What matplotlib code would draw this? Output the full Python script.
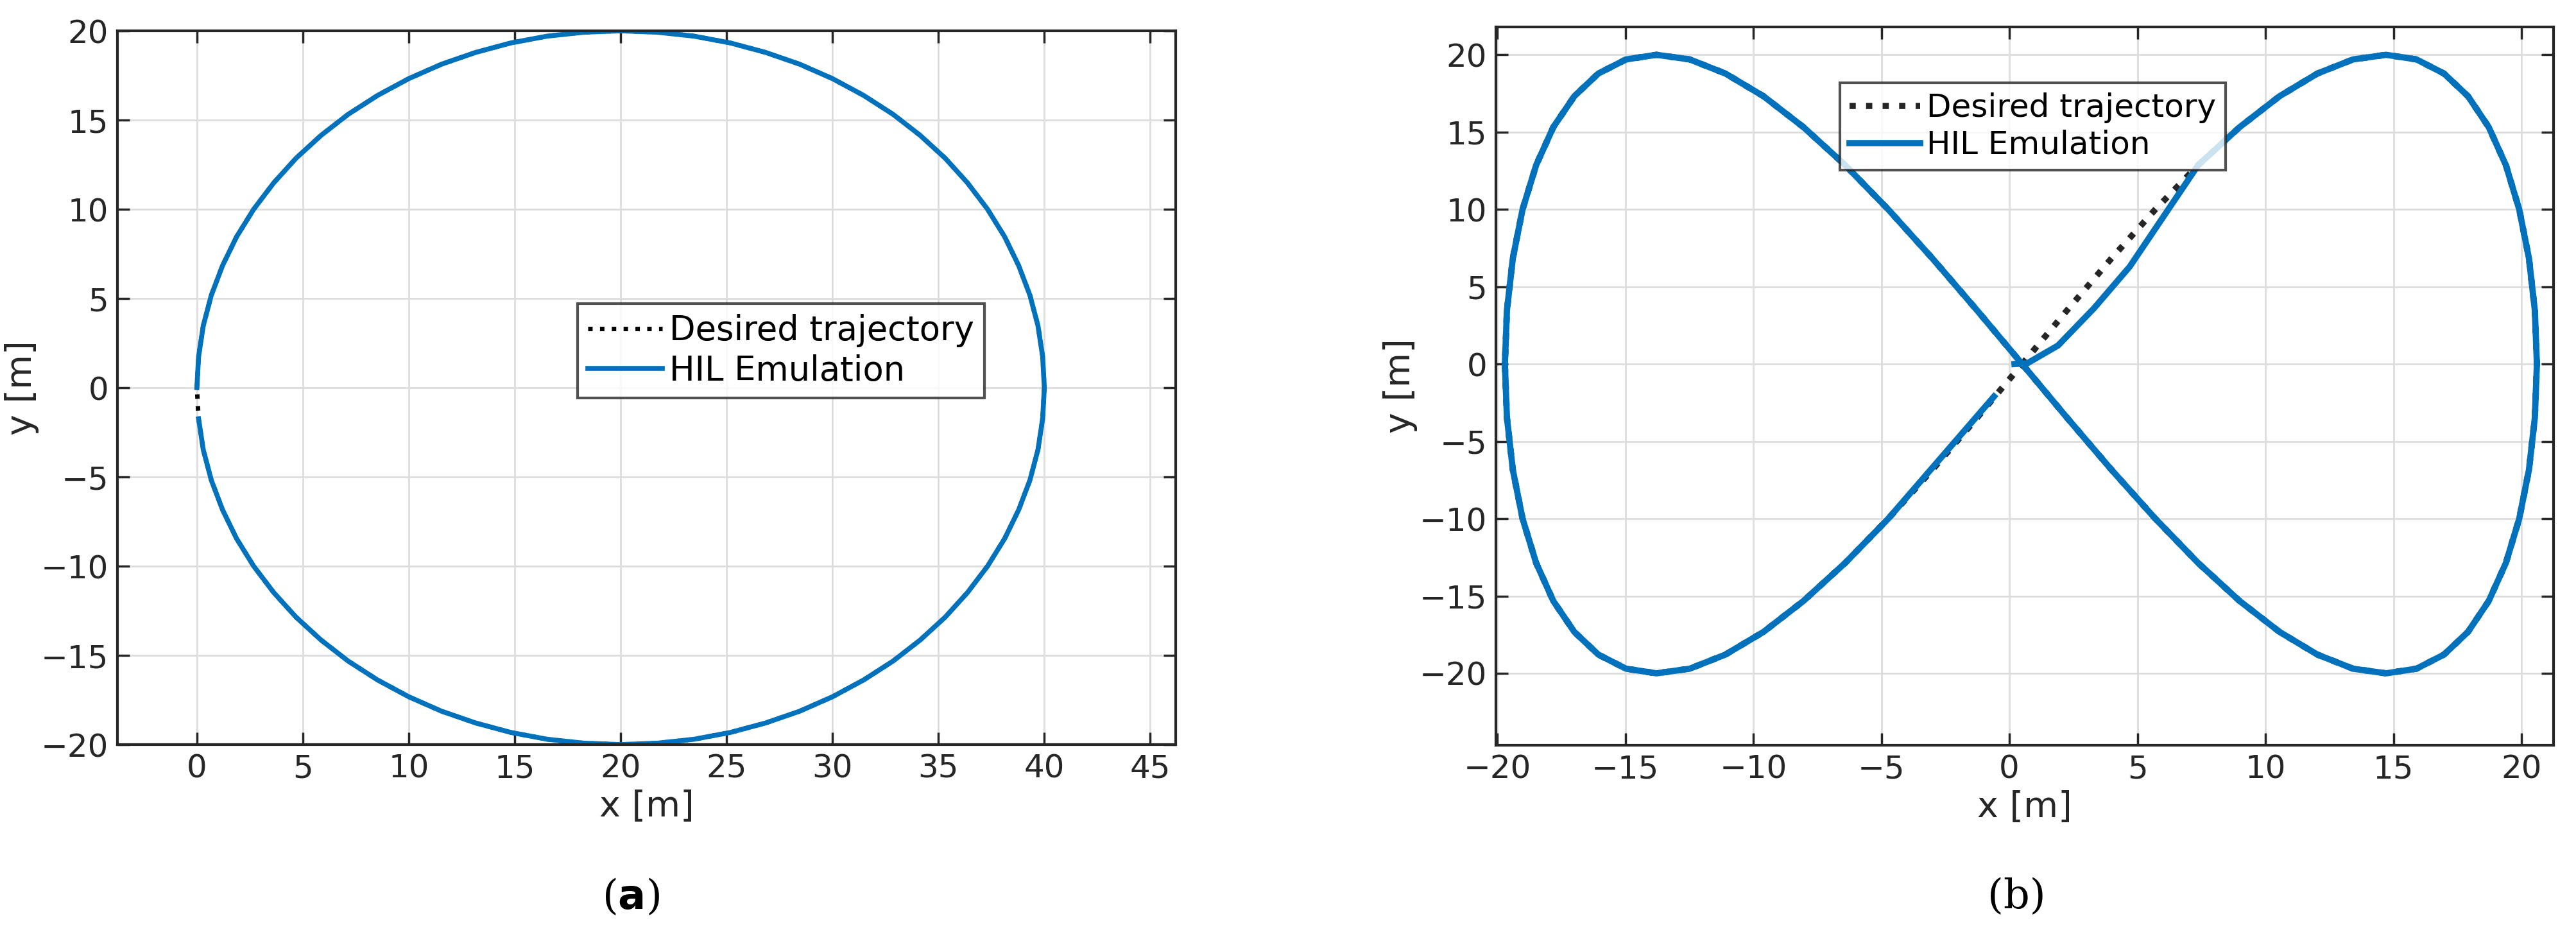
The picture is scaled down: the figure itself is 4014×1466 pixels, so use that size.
import matplotlib.pyplot as plt

# (a) circular path: upper-left quarter (x, y in m)
quarter_x = [0, 0.08, 0.30, 0.68, 1.21, 1.87, 2.68, 3.62, 4.68, 5.86, 7.14, 8.53, 10, 11.55, 13.16, 14.82, 16.53, 18.26, 20]
quarter_y = [0, 1.74, 3.47, 5.18, 6.84, 8.45, 10, 11.47, 12.86, 14.14, 15.32, 16.38, 17.32, 18.13, 18.79, 19.32, 19.70, 19.92, 20]

upper_x = quarter_x + [40 - v for v in quarter_x[-2::-1]]
upper_y = quarter_y + quarter_y[-2::-1]
circle_x = upper_x + upper_x[-2::-1]
circle_y = upper_y + [-v for v in upper_y[-2::-1]]
hil_circle_x = circle_x[:-1]
hil_circle_y = circle_y[:-1]

# (b) figure-eight path: half-lobe points
right_x = [0.5, 2.25, 3.99, 5.70, 7.37, 8.99, 10.55, 12.03, 13.42, 14.71, 15.90, 16.97, 17.91, 18.72, 19.39, 19.91, 20.29, 20.52, 20.6]
left_x = [0.5, -1.26, -3.01, -4.73, -6.41, -8.04, -9.6, -11.09, -12.48, -13.78, -14.97, -16.05, -16.99, -17.81, -18.48, -19.01, -19.39, -19.62, -19.7]
lobe_y = [0, 3.47, 6.84, 10, 12.86, 15.32, 17.32, 18.79, 19.70, 20, 19.70, 18.79, 17.32, 15.32, 12.86, 10, 6.84, 3.47, 0]

eight_x = right_x + right_x[-2::-1] + left_x[1:] + left_x[-2::-1]
eight_y = lobe_y + [-v for v in lobe_y[1:]] + lobe_y[1:] + [-v for v in lobe_y[1:]]
hil_eight_x = [0.2, 0.7, 1.9, 3.3, 4.7] + eight_x[4:-3] + [-0.6]
hil_eight_y = [0.0, 0.05, 1.2, 3.6, 6.3] + eight_y[4:-3] + [-2.1]

blue = '#0072BD'
dark = '#262626'
plt.rcParams['font.family'] = ['DejaVu Sans']

fig = plt.figure(figsize=(40.14, 14.66), dpi=100)
W, H = 4014, 1466
ax1 = fig.add_axes([183 / W, 1 - 1160 / H, (1832 - 183) / W, (1160 - 48) / H])
ax2 = fig.add_axes([2331 / W, 1 - 1161 / H, (3979 - 2331) / W, (1161 - 42) / H])

ax1.plot(circle_x, circle_y, ':', color='black', lw=5, label='Desired trajectory')
ax1.plot(hil_circle_x, hil_circle_y, '-', color=blue, lw=5.5, label='HIL Emulation')
ax1.set_xlim(-3.75, 46.2)
ax1.set_ylim(-20, 20)
ax1.set_xticks(range(0, 50, 5))
ax1.set_yticks(range(-20, 25, 5))

ax2.plot(eight_x, eight_y, ':', color=dark, lw=7, label='Desired trajectory')
ax2.plot(hil_eight_x, hil_eight_y, '-', color=blue, lw=7, label='HIL Emulation')
ax2.set_xlim(-20.05, 21.25)
ax2.set_ylim(-24.65, 21.8)
ax2.set_xticks(range(-20, 25, 5))
ax2.set_yticks(range(-20, 25, 5))

for ax in (ax1, ax2):
    ax.grid(True, color='#dddddd', lw=2)
    ax.tick_params(labelsize=36, colors=dark, direction='in', length=14, width=2.5, pad=10,
                   top=True, right=True)
    for s in ax.spines.values():
        s.set_linewidth(3)
        s.set_color(dark)
    ax.set_xlabel('x [m]', fontsize=40, color=dark, labelpad=6)
    ax.set_ylabel('y [m]', fontsize=40, color=dark, labelpad=2)

leg1 = ax1.legend(loc='upper left', bbox_to_anchor=(691 / 1649, 1 - (447 - 48) / 1112),
                  fontsize=38, frameon=True, fancybox=False, edgecolor=dark,
                  handlelength=2.2, handletextpad=0.2, borderpad=0.3, labelspacing=0.2)
leg2 = ax2.legend(loc='upper left', bbox_to_anchor=((2842 - 2331) / 1648, 1 - (104 - 42) / 1119),
                  fontsize=36, frameon=True, fancybox=False, edgecolor=dark,
                  handlelength=2.2, handletextpad=0.2, borderpad=0.3, labelspacing=0.2)
for leg in (leg1, leg2):
    leg.get_frame().set_linewidth(3)

fig.text(983 / W, 1 - 1398 / H, r'($\mathbf{a}$)', fontsize=46, family='DejaVu Serif', ha='center', va='center')
fig.text(3142 / W, 1 - 1398 / H, '(b)', fontsize=46, family='DejaVu Serif', ha='center', va='center')

fig.savefig('out.png', dpi=100)
